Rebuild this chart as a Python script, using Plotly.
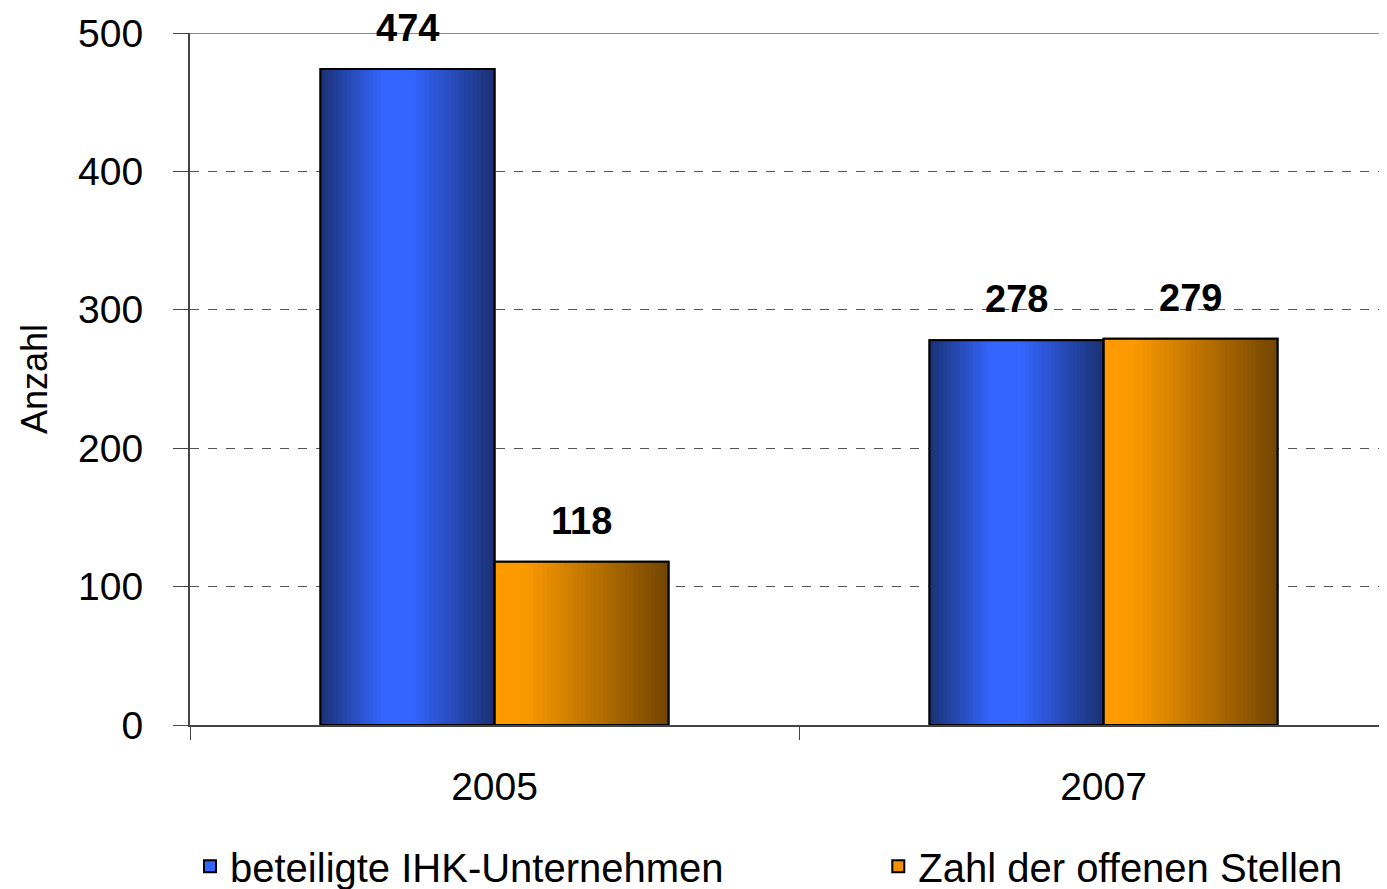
import plotly.graph_objects as go

categories = ["2005", "2007"]
series_names = ["beteiligte IHK-Unternehmen", "Zahl der offenen Stellen"]
unternehmen = [474, 278]
stellen = [118, 279]
y_ticks = [0, 100, 200, 300, 400, 500]

FONT = "Liberation Sans, Arial, sans-serif"
W = 0.2857  # bar width in category units
N = 40      # gradient strips per bar

def hex2rgb(h):
    h = h.lstrip("#")
    return tuple(int(h[i:i + 2], 16) for i in (0, 2, 4))

def grad(stops, t):
    for (p0, c0), (p1, c1) in zip(stops, stops[1:]):
        if p0 <= t <= p1:
            f = 0 if p1 == p0 else (t - p0) / (p1 - p0)
            a, b = hex2rgb(c0), hex2rgb(c1)
            return "rgb(%d,%d,%d)" % tuple(round(a[k] + (b[k] - a[k]) * f) for k in range(3))
    return stops[-1][1]

blue_stops = [(0, "#1b3174"), (0.36, "#3366ff"), (0.52, "#3366ff"), (1, "#1b3174")]
orange_stops = [(0, "#ff9a00"), (0.18, "#fb9900"), (1, "#724500")]

fig = go.Figure()
specs = [
    (series_names[0], unternehmen, -W, blue_stops, "#3366ff", "legend"),
    (series_names[1], stellen, 0.0, orange_stops, "#f39200", "legend2"),
]
# base traces (legend)
for name, vals, off, stops, solid, lg in specs:
    fig.add_trace(go.Bar(x=categories, y=vals, name=name, offset=off, width=W,
                         marker=dict(color=solid, line=dict(color="black", width=2)),
                         showlegend=True, legend=lg, hoverinfo="skip"))
# gradient strips
for name, vals, off, stops, solid, lg in specs:
    dw = W / N
    for i in range(N):
        t = (i + 0.5) / N
        fig.add_trace(go.Bar(x=categories, y=vals, offset=off + i * dw, width=W - i * dw,
                             marker=dict(color=grad(stops, t), line=dict(width=0)),
                             showlegend=False, hoverinfo="skip"))
# outlines
for name, vals, off, stops, solid, lg in specs:
    fig.add_trace(go.Bar(x=categories, y=vals, offset=off, width=W,
                         marker=dict(color="rgba(0,0,0,0)", line=dict(color="black", width=2)),
                         showlegend=False, hoverinfo="skip"))

# value labels
for vals, shift in ((unternehmen, -W / 2), (stellen, W / 2)):
    for i, v in enumerate(vals):
        fig.add_annotation(x=i + shift, y=v, xref="x", yref="y", text="<b>%d</b>" % v,
                           showarrow=False, yanchor="bottom", yshift=19, borderpad=0,
                           font=dict(family=FONT, size=38, color="black"))

fig.add_shape(type="line", xref="paper", yref="y", x0=0, x1=1, y0=500, y1=500,
              line=dict(color="#8a8a8a", width=2))

legend_common = dict(orientation="h", xanchor="left", y=-0.204, yanchor="middle",
                     font=dict(family=FONT, size=40, color="black"), itemclick=False,
                     bgcolor="rgba(0,0,0,0)")

fig.update_layout(
    width=1379, height=881,
    margin=dict(l=182, r=0, t=25, b=164, autoexpand=False),
    paper_bgcolor="white", plot_bgcolor="white",
    barmode="overlay",
    font=dict(family=FONT, size=38, color="black"),
    showlegend=True,
    legend=dict(x=0.0, **legend_common),
    legend2=dict(x=0.575, **legend_common),
    xaxis=dict(type="category", range=[-0.5, 1.4655], showline=True, linecolor="#444",
               linewidth=2, ticks="outside", ticklen=13, tickcolor="#444", tickwidth=1,
               tickson="boundaries", showgrid=False, ticklabelstandoff=26,
               automargin=False, tickfont=dict(family=FONT, size=39)),
    yaxis=dict(range=[0, 500], tickvals=y_ticks, showline=True, linecolor="#444",
               linewidth=2, ticks="outside", ticklen=15, tickcolor="#444",
               showgrid=True, gridcolor="#555", griddash="dash", gridwidth=1,
               zeroline=False, ticklabelstandoff=22, automargin=False,
               tickfont=dict(family=FONT, size=39),
               title=dict(text="Anzahl", font=dict(family=FONT, size=36), standoff=20)),
)

fig.write_html("out.html")
